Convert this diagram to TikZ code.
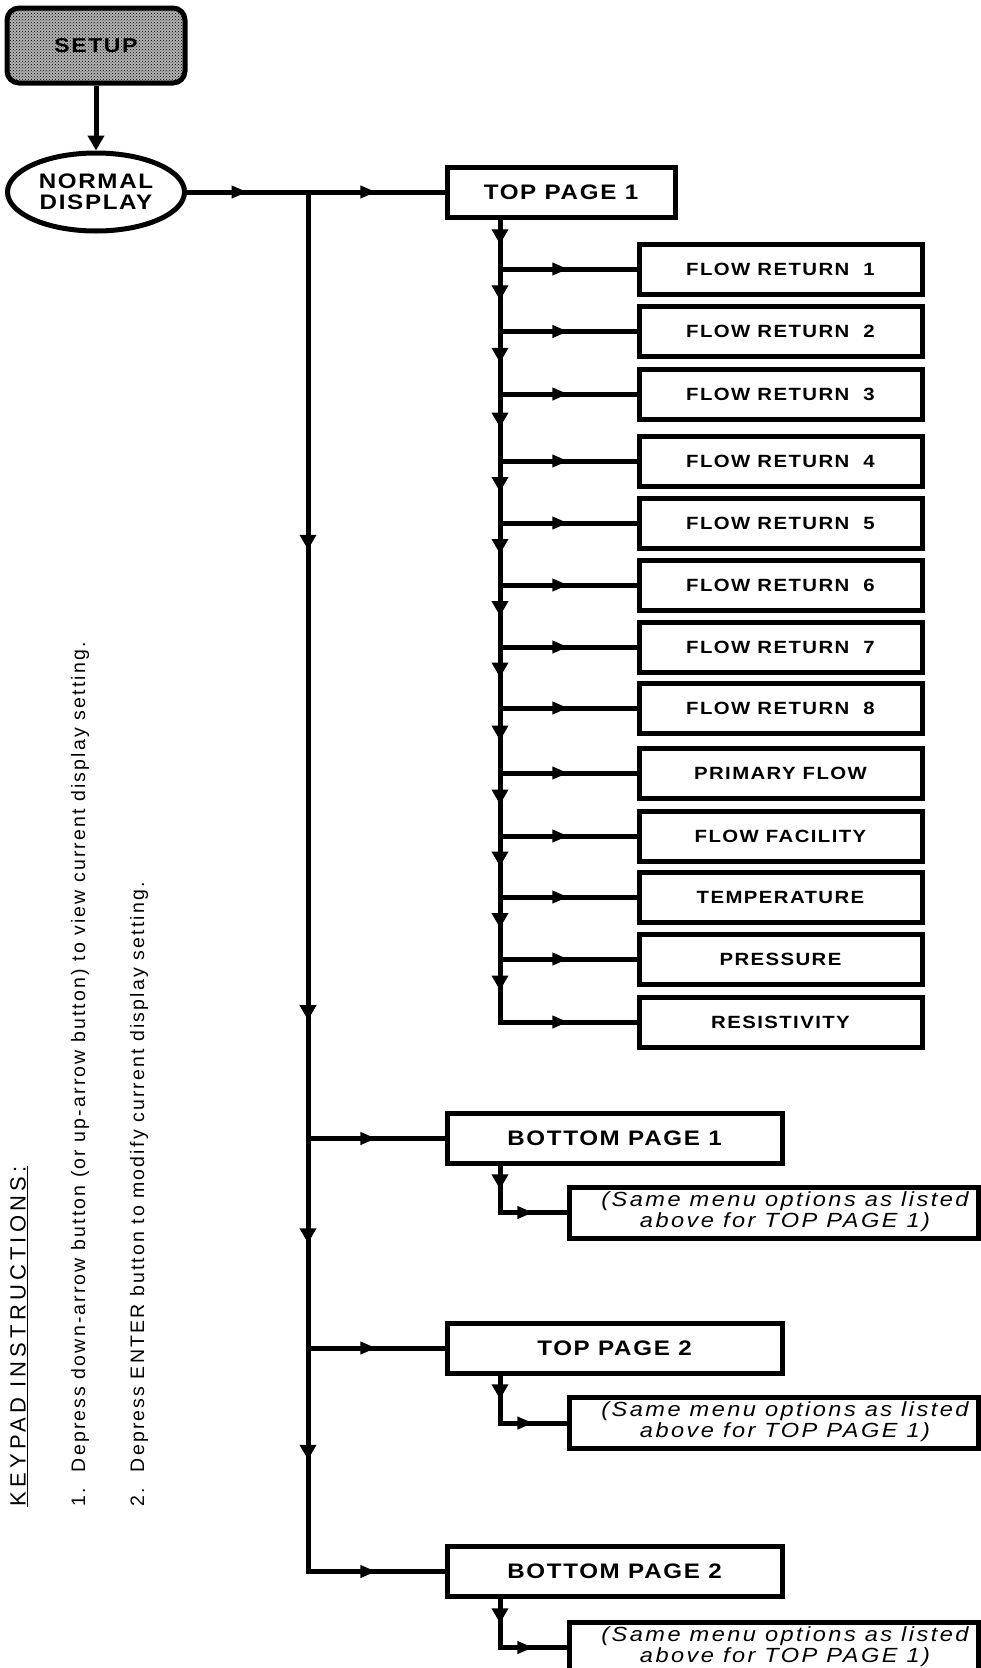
\documentclass[tikz,border=0pt]{standalone}
\usepackage{fontspec}
\setmainfont{Liberation Sans}
\newfontfamily\boxfont{Liberation Sans}[FakeStretch=1.15, LetterSpace=8]
\newfontfamily\notefont{Liberation Sans}[FakeStretch=1.15, LetterSpace=12]
\newfontfamily\headfont{Liberation Sans}[LetterSpace=19]
\newfontfamily\stepfont{Liberation Sans}[LetterSpace=11]
\newcommand{\samenote}{\hspace*{23pt}\begin{tabular}{@{}c@{}}(Same menu options as listed\\above for TOP PAGE 1)\end{tabular}}
\usetikzlibrary{arrows.meta, shapes.geometric, decorations.markings, patterns}

\begin{document}
\begin{tikzpicture}[x=1pt, y=-1pt, line width=5pt, line cap=rect,
  menubox/.style={draw, rectangle, inner sep=0pt, minimum height=50pt},
  pagebox/.style={menubox, minimum width=335pt,
    font=\boxfont\bfseries\fontsize{21}{22}\selectfont},
  itembox/.style={menubox, minimum width=283pt,
    font=\boxfont\bfseries\fontsize{17.7}{20}\selectfont},
  samebox/.style={menubox, minimum width=409pt, minimum height=51pt,
    font=\notefont\itshape\fontsize{20.5}{21}\selectfont},
  vmid/.style={postaction={decorate}, decoration={markings,
    mark=at position 0.5 with {\arrow{Triangle[length=15pt, width=16pt]}}}},
  hmid/.style={postaction={decorate}, decoration={markings,
    mark=at position 0.5 with {\arrow{Triangle[length=16pt, width=12pt]}}}},
  trunkmarks/.style={postaction={decorate}, decoration={markings,
    mark=at position 0.378 with {\arrow{Triangle[length=15pt, width=16pt]}},
    mark=at position 0.875 with {\arrow{Triangle[length=15pt, width=16pt]}}}},
  keytext/.style={rotate=90, anchor=west, inner sep=0pt}
]
  \useasboundingbox (0,0) rectangle (981,1668);

  % setup and normal display
  \node[draw, rounded corners=12pt, preaction={fill=black!30}, pattern=crosshatch dots,
        minimum width=178pt, minimum height=75pt,
        font=\boxfont\bfseries\fontsize{20}{20}\selectfont] (setup) at (96,45.5) {SETUP};
  \node[draw, ellipse, inner sep=0pt, minimum width=177pt, minimum height=78pt, align=center,
        font=\boxfont\bfseries\fontsize{21}{21}\selectfont] (normal) at (96,192) {NORMAL\\DISPLAY};
  \draw[-{Triangle[length=15pt, width=16pt]}, line cap=butt] (setup) -- (normal);

  \coordinate (trunk) at (308,0);
  \coordinate (sub) at (500,0);

  % pages
  \node[pagebox, minimum width=228pt] (tp1) at (561,192) {TOP PAGE 1};
  \node[pagebox] (bp1) at (614.5,1138.5) {BOTTOM PAGE 1};
  \node[pagebox] (tp2) at (614.5,1348) {TOP PAGE 2};
  \node[pagebox] (bp2) at (614.5,1571.5) {BOTTOM PAGE 2};

  % main trunk
  \draw[hmid] (normal) -- (normal -| trunk);
  \draw[hmid] (normal -| trunk) -- (tp1);
  \draw[trunkmarks] (normal -| trunk) -- (trunk |- bp1);
  \draw[hmid] (trunk |- bp1) -- (bp1);
  \draw[vmid] (trunk |- bp1) -- (trunk |- tp2);
  \draw[hmid] (trunk |- tp2) -- (tp2);
  \draw[vmid] (trunk |- tp2) -- (trunk |- bp2);
  \draw[hmid] (trunk |- bp2) -- (bp2);

  % menu options of top page 1
  \foreach \name/\txt/\yy in {fr1/{FLOW RETURN\ \ 1}/269, fr2/{FLOW RETURN\ \ 2}/331.5,
      fr3/{FLOW RETURN\ \ 3}/394, fr4/{FLOW RETURN\ \ 4}/461, fr5/{FLOW RETURN\ \ 5}/523,
      fr6/{FLOW RETURN\ \ 6}/585, fr7/{FLOW RETURN\ \ 7}/647, fr8/{FLOW RETURN\ \ 8}/708,
      prim/{PRIMARY FLOW}/773, fac/{FLOW FACILITY}/836, temp/{TEMPERATURE}/897,
      press/{PRESSURE}/959, resist/{RESISTIVITY}/1022}{
    \node[itembox] (\name) at (780.5,\yy) {\txt};
    \draw[hmid] (sub |- \name) -- (\name);
  }
  \draw[vmid] (sub |- tp1.south) -- (sub |- fr1);
  \foreach \name [remember=\name as \prev (initially fr1)] in
      {fr2,fr3,fr4,fr5,fr6,fr7,fr8,prim,fac,temp,press,resist}
    \draw[vmid] (sub |- \prev) -- (sub |- \name);

  % same options for the other pages
  \foreach \pg/\yy [count=\i] in {bp1/1212.5, tp2/1423, bp2/1647.5}{
    \node[samebox] (same\i) at (773.5,\yy) {\samenote};
    \draw[vmid] (sub |- \pg.south) -- (sub |- same\i);
    \draw[hmid] (sub |- same\i) -- (same\i);
  }

  % keypad instructions
  \node[keytext, font=\headfont\fontsize{22}{22}\selectfont] (keyhead) at (19,1509)
        {\underline{KEYPAD INSTRUCTIONS:}};
  \node[keytext, font=\stepfont\fontsize{19.5}{19.5}\selectfont] (step1) at (80,1509)
        {1.\hspace{16pt}Depress down-arrow button (or up-arrow button) to view current display setting.};
  \node[keytext, font=\stepfont\fontsize{19.5}{19.5}\selectfont] (step2) at (139,1509)
        {2.\hspace{16pt}Depress ENTER button to modify current display setting.};
\end{tikzpicture}
\end{document}
